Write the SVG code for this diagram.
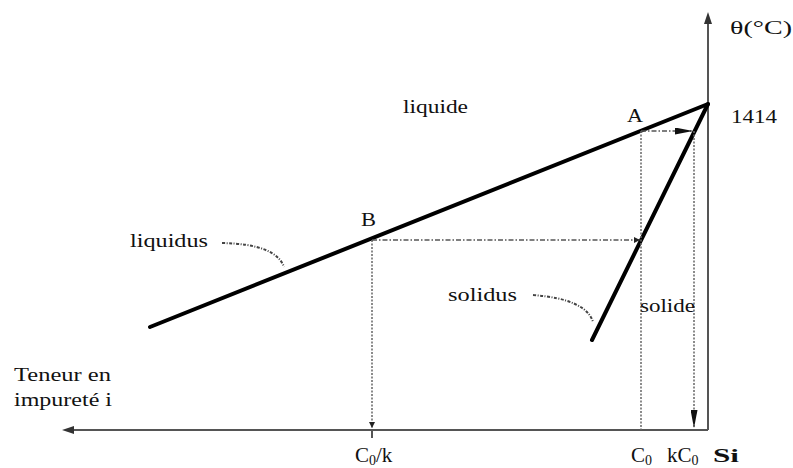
<svg xmlns="http://www.w3.org/2000/svg" width="793" height="468" viewBox="0 0 793 468">
<defs>
<marker id="ah" viewBox="0 0 10 10" refX="10" refY="5" markerWidth="6" markerHeight="6" markerUnits="userSpaceOnUse" orient="auto"><path d="M0,0 L10,5 L0,10 z" fill="#222"/></marker>
<marker id="ahl" viewBox="0 0 10 10" refX="10" refY="5" markerWidth="18" markerHeight="7" markerUnits="userSpaceOnUse" orient="auto" preserveAspectRatio="none"><path d="M0,0 L10,5 L0,10 z" fill="#111"/></marker>
</defs>
<style>
text{font-family:"Liberation Serif","Times New Roman",serif;font-size:18px;fill:#111}
.axis{stroke:#555;stroke-width:2;fill:none}
.curve{stroke:#000;stroke-width:4;fill:none;stroke-linecap:round}
.dot{stroke:#666;stroke-width:1.5;stroke-dasharray:2 1.5;fill:none}
.dd{stroke:#555;stroke-width:1.5;stroke-dasharray:5 2 1.5 2;fill:none}
.lead{stroke:#444;stroke-width:2;stroke-dasharray:3 1.5 1 1.5;fill:none}
.tick{font-size:21px}
.sub{font-size:14px}
</style>
<rect width="793" height="468" fill="#fff"/>
<g id="axes">
<line class="axis" x1="708" y1="430" x2="708" y2="22"/>
<path d="M708,12 L704,24 L712,24 z" fill="#333"/>
<line class="axis" x1="708" y1="430" x2="72" y2="430"/>
<path d="M62,430 L74,426 L74,434 z" fill="#333"/>
<line class="axis" x1="372" y1="430" x2="372" y2="438"/>
</g>
<g id="liquidus-line"><line class="curve" x1="150" y1="327" x2="708" y2="104"/></g>
<g id="solidus-line"><line class="curve" x1="592" y1="340" x2="708" y2="104"/></g>
<g id="connectors">
<line class="dot" x1="641" y1="131" x2="641" y2="430"/>
<line class="dot" x1="372" y1="240" x2="372" y2="428" marker-end="url(#ah)"/>
<line class="dot" x1="694" y1="131" x2="694" y2="428" marker-end="url(#ahl)"/>
<line class="dd" x1="641" y1="131" x2="693" y2="131" marker-end="url(#ahl)"/>
<line class="dd" x1="372" y1="240" x2="640" y2="240" marker-end="url(#ah)"/>
<path class="lead" d="M222,243 Q276,244 284,267"/>
<path class="lead" d="M533,295 Q586,299 593,322"/>
</g>
<g id="labels">
<text x="730" y="34" font-size="24" textLength="62" lengthAdjust="spacingAndGlyphs">θ(°C)</text>
<text x="731" y="123" font-size="20" textLength="46" lengthAdjust="spacingAndGlyphs">1414</text>
<text x="627" y="122" textLength="16" lengthAdjust="spacingAndGlyphs">A</text>
<text x="361" y="226" textLength="15" lengthAdjust="spacingAndGlyphs">B</text>
<text x="403" y="113" font-size="19" textLength="65" lengthAdjust="spacingAndGlyphs">liquide</text>
<text x="130" y="247" font-size="19" textLength="78" lengthAdjust="spacingAndGlyphs">liquidus</text>
<text x="448" y="301" font-size="19" textLength="69" lengthAdjust="spacingAndGlyphs">solidus</text>
<text x="640" y="312" font-size="19" textLength="55" lengthAdjust="spacingAndGlyphs">solide</text>
<text x="14" y="381" font-size="19" textLength="97" lengthAdjust="spacingAndGlyphs">Teneur en</text>
<text x="14" y="406" font-size="19" textLength="98" lengthAdjust="spacingAndGlyphs">impureté i</text>
<text class="tick" x="355" y="462">C<tspan class="sub" dy="3">0</tspan><tspan dy="-3">/k</tspan></text>
<text class="tick" x="631" y="462">C<tspan class="sub" dy="3">0</tspan></text>
<text class="tick" x="667" y="462">kC<tspan class="sub" dy="3">0</tspan></text>
<text x="713" y="462" font-size="23" font-weight="bold" textLength="26" lengthAdjust="spacingAndGlyphs">Si</text>
</g>
</svg>
